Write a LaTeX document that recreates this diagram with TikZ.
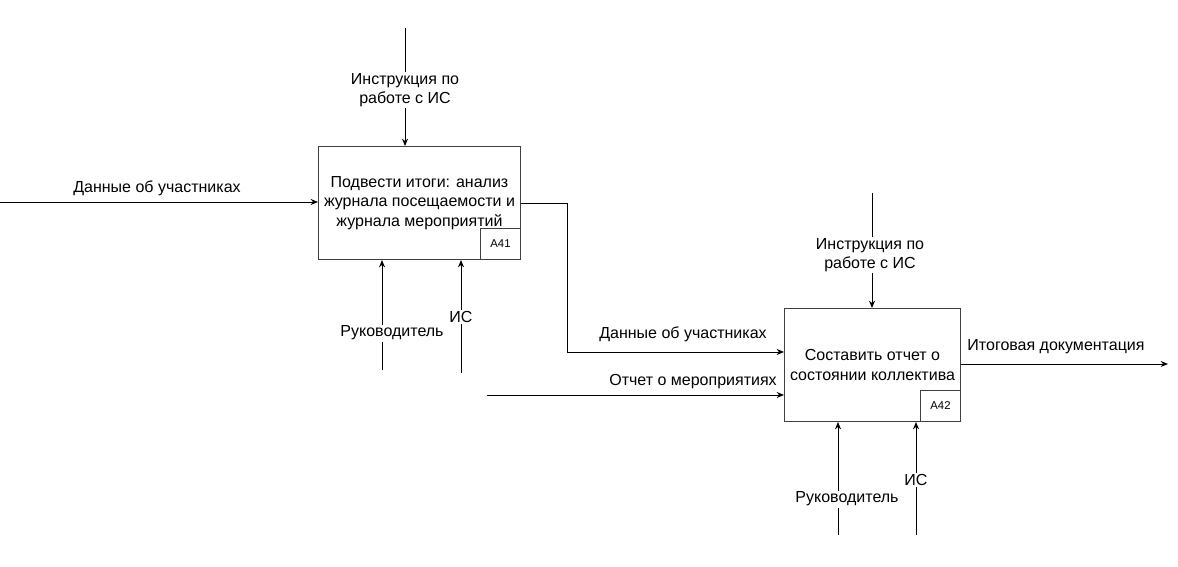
\documentclass[tikz,border=0pt]{standalone}
\usepackage{fontspec}
\setmainfont{Liberation Sans}
\usetikzlibrary{arrows.meta}
\colorlet{boxcol}{black!75}
\colorlet{flowcol}{black}

\begin{document}
\begin{tikzpicture}[x=0.75pt, y=-0.75pt, font=\fontsize{12}{14.5}\selectfont,
	func/.style={draw=boxcol, line width=0.75pt, inner sep=0pt, minimum width=151.5pt, minimum height=84.75pt, align=center, anchor=north west},
	tagbox/.style={draw=boxcol, line width=0.75pt, inner sep=0pt, minimum width=30pt, minimum height=23.25pt, font=\fontsize{8.5}{10}\selectfont, anchor=south east},
	flow/.style={draw=flowcol, line width=0.75pt, -{Stealth[length=5.5pt, width=4.5pt]}},
	lbl/.style={fill=white, inner sep=1pt, align=center}]
		\useasboundingbox (0, 0) rectangle (1178, 567);
		% activity boxes
		\node[func] (a41) at (318, 146) {Подвести итоги: анализ\\журнала посещаемости и\\журнала мероприятий};
		\node[tagbox] (a41tag) at (a41.south east) {A41};
		\node[func, minimum width=132pt] (a42) at (784, 308) {Составить отчет о\\состоянии коллектива};
		\node[tagbox] (a42tag) at (a42.south east) {A42};
		% free ends of the arrows
		\coordinate (in1) at (0, 202);
		\coordinate (ctl1) at (405, 28);
		\coordinate (mech1a) at (382, 370);
		\coordinate (mech1b) at (461, 373);
		\coordinate (bend1) at (567, 203);
		\coordinate (bend2) at (567, 352);
		\coordinate (in2) at (487, 395);
		\coordinate (ctl2) at (872, 193);
		\coordinate (out2) at (1168, 364);
		\coordinate (mech2a) at (838, 535);
		\coordinate (mech2b) at (916, 535);
		\draw[flow] (in1) -- (in1 -| a41.west);
		\draw[flow] (ctl1) -- (ctl1 |- a41.north);
		\draw[flow] (mech1a) -- (mech1a |- a41.south);
		\draw[flow] (mech1b) -- (mech1b |- a41.south);
		\draw[flow] (a41.east |- bend1) -- (bend1) -- (bend2) -- (bend2 -| a42.west);
		\draw[flow] (in2) -- (in2 -| a42.west);
		\draw[flow] (ctl2) -- (ctl2 |- a42.north);
		\draw[flow] (mech2a) -- (mech2a |- a42.south);
		\draw[flow] (mech2b) -- (mech2b |- a42.south);
		\draw[flow] (a42.east |- out2) -- (out2);
		% labels
		\node[lbl] (lctl1) at (405, 90) {Инструкция по\\работе с ИС};
		\node (lin1) at (157, 188) {Данные об участниках};
		\node[lbl] (lmech1a) at (392, 333) {Руководитель};
		\node[lbl] (lmech1b) at (461, 317) {ИС};
		\node (lout1) at (683, 334) {Данные об участниках};
		\node (lin2) at (693, 382) {Отчет о мероприятиях};
		\node[lbl] (lctl2) at (870, 255) {Инструкция по\\работе с ИС};
		\node (lout2) at (1056, 347) {Итоговая документация};
		\node[lbl] (lmech2a) at (847, 499) {Руководитель};
		\node[lbl] (lmech2b) at (916, 480) {ИС};
	\end{tikzpicture}
\end{document}
